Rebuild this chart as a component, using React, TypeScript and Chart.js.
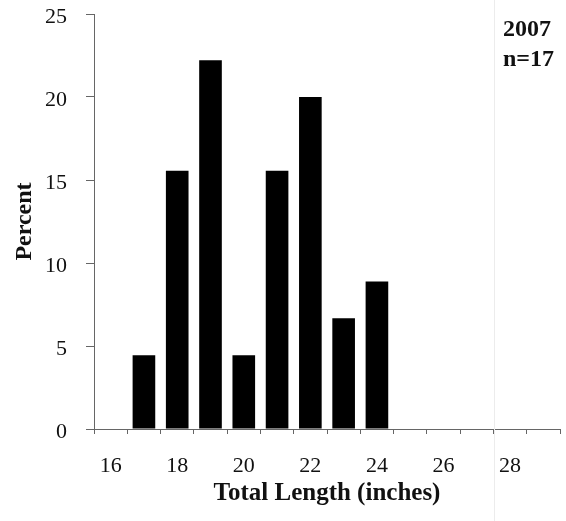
import React, { useEffect, useRef } from "react";
import { Chart, registerables } from "chart.js";

Chart.register(...registerables);

const CATEGORIES = ["16", "17", "18", "19", "20", "21", "22", "23", "24", "25", "26", "27", "28", "29"];
const PERCENT = [0, 4.44, 15.56, 22.22, 4.44, 15.56, 20.0, 6.67, 8.89, 0, 0, 0, 0, 0];
const TICK_LABELS = ["16", "", "18", "", "20", "", "22", "", "24", "", "26", "", "28", ""];
const Y_TICKS = [0, 5, 10, 15, 20, 25];
const NOTE_LINES = ["2007", "n=17"];
const X_TITLE = "Total Length (inches)";
const Y_TITLE = "Percent";

const SERIF = "'Liberation Serif', 'Times New Roman', serif";

const notePlugin = {
  id: "notePlugin",
  afterDraw(chart: any) {
    const ctx = chart.ctx;
    ctx.save();
    ctx.fillStyle = "#111";
    ctx.font = `bold 24px ${SERIF}`;
    ctx.textAlign = "left";
    ctx.textBaseline = "middle";
    NOTE_LINES.forEach((t, i) => {
      ctx.fillText(t, 503, 30 + i * 30);
    });
    ctx.restore();
  },
};

export default function App() {
  const ref = useRef<HTMLCanvasElement | null>(null);

  useEffect(() => {
    document.body.style.margin = "0";
    const canvas = ref.current;
    if (!canvas) return;
    const chart = new Chart(canvas, {
      type: "bar",
      data: {
        labels: CATEGORIES,
        datasets: [
          {
            data: PERCENT,
            backgroundColor: "#000",
            borderWidth: 0,
            barPercentage: 0.68,
            categoryPercentage: 1.0,
          },
        ],
      },
      options: {
        animation: false,
        responsive: false,
        maintainAspectRatio: false,
        layout: { padding: { top: 14, right: 6, left: 0, bottom: 0 } },
        plugins: {
          legend: { display: false },
          tooltip: { enabled: false },
        },
        scales: {
          x: {
            type: "category",
            offset: true,
            grid: {
              display: true,
              offset: true,
              drawOnChartArea: false,
              drawTicks: true,
              tickLength: 5,
              color: "#666",
              lineWidth: 1,
            },
            border: { display: true, color: "#666", width: 1 },
            ticks: {
              autoSkip: false,
              maxRotation: 0,
              minRotation: 0,
              padding: 19,
              color: "#111",
              font: { family: SERIF, size: 22 },
              callback: (_v: any, i: number) => TICK_LABELS[i],
            },
            title: {
              display: true,
              text: X_TITLE,
              color: "#111",
              font: { family: SERIF, size: 25, weight: "bold" },
              padding: { top: 12, bottom: 12 },
            },
            afterFit: (s: any) => {
              s.height = 92;
              s.paddingLeft = 0;
              s.paddingRight = 0;
            },
          },
          y: {
            min: 0,
            max: 25,
            afterBuildTicks: (s: any) => {
              s.ticks = Y_TICKS.map((v) => ({ value: v }));
            },
            grid: {
              display: true,
              drawOnChartArea: false,
              drawTicks: true,
              tickLength: 8,
              color: "#666",
              lineWidth: 1,
            },
            border: { display: true, color: "#666", width: 1 },
            ticks: {
              padding: 19,
              labelOffset: 3,
              color: "#111",
              font: { family: SERIF, size: 22 },
            },
            title: {
              display: true,
              text: Y_TITLE,
              color: "#111",
              font: { family: SERIF, size: 24, weight: "bold" },
              padding: { top: 10, bottom: 10 },
            },
            afterFit: (s: any) => {
              s.width = 94;
              s.paddingTop = 0;
              s.paddingBottom = 0;
            },
          },
        },
      },
      plugins: [notePlugin],
    });
    return () => chart.destroy();
  }, []);

  return (
    <div style={{ position: "relative", width: 566, height: 521, background: "#fff" }}>
      <canvas ref={ref} width={566} height={521} style={{ display: "block" }} />
      <div
        style={{
          position: "absolute",
          left: 494,
          top: 0,
          width: 1,
          height: 521,
          background: "#ececec",
          pointerEvents: "none",
        }}
      />
    </div>
  );
}
